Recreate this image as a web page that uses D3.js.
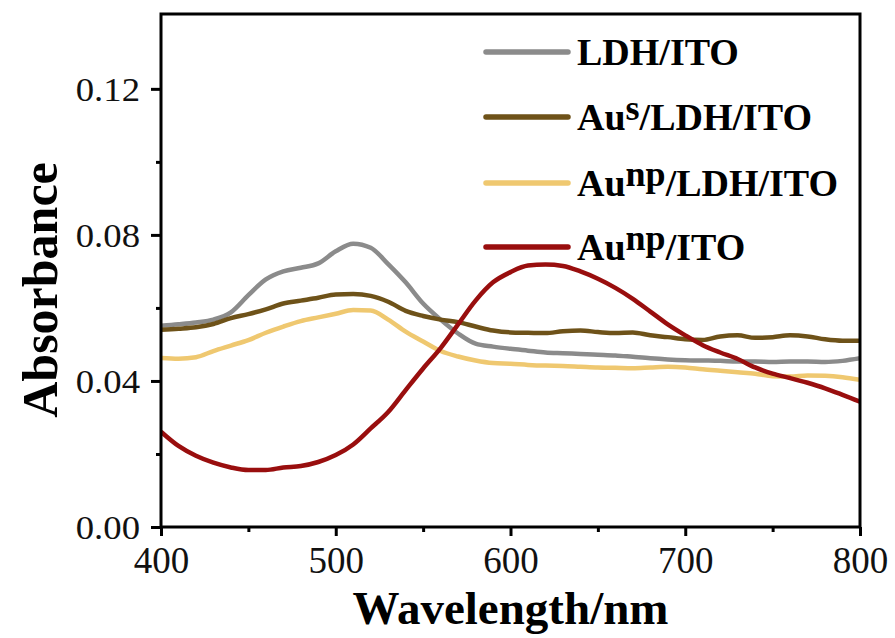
<!DOCTYPE html>
<html><head><meta charset="utf-8">
<script src="https://cdn.jsdelivr.net/npm/d3@7/dist/d3.min.js"></script>
<style>body{margin:0;background:#fff}</style></head>
<body><svg id="c" width="895" height="638"></svg>
<script>
const wavelength = [400,410,420,430,440,450,460,470,480,490,500,510,520,530,540,550,560,570,580,590,600,610,620,630,640,650,660,670,680,690,700,710,720,730,740,750,760,770,780,790,800];
const ldhITO = [0.0551,0.0555,0.0560,0.0568,0.0588,0.0635,0.0678,0.0700,0.0710,0.0722,0.0755,0.0776,0.0765,0.0720,0.0670,0.0612,0.0568,0.0530,0.0502,0.0494,0.0488,0.0483,0.0478,0.0476,0.0474,0.0472,0.0470,0.0466,0.0462,0.0459,0.0457,0.0456,0.0455,0.0453,0.0453,0.0452,0.0453,0.0453,0.0452,0.0455,0.0462];
const auSLdhITO = [0.0540,0.0543,0.0547,0.0556,0.0572,0.0583,0.0596,0.0612,0.0620,0.0628,0.0637,0.0638,0.0633,0.0617,0.0592,0.0578,0.0568,0.0561,0.0549,0.0538,0.0533,0.0532,0.0531,0.0536,0.0538,0.0534,0.0531,0.0533,0.0525,0.0520,0.0514,0.0512,0.0522,0.0525,0.0518,0.0520,0.0525,0.0522,0.0514,0.0510,0.0510];
const auNpLdhITO = [0.0463,0.0461,0.0465,0.0482,0.0497,0.0512,0.0532,0.0549,0.0564,0.0574,0.0584,0.0594,0.0593,0.0568,0.0535,0.0508,0.0482,0.0467,0.0456,0.0449,0.0447,0.0444,0.0442,0.0441,0.0439,0.0437,0.0436,0.0435,0.0437,0.0439,0.0437,0.0432,0.0428,0.0424,0.0420,0.0413,0.0412,0.0415,0.0414,0.0410,0.0403];
const auNpITO = [0.0261,0.0222,0.0195,0.0176,0.0163,0.0156,0.0156,0.0163,0.0167,0.0178,0.0197,0.0226,0.0270,0.0315,0.0375,0.0434,0.0490,0.0555,0.0620,0.0670,0.0698,0.0716,0.0719,0.0715,0.0700,0.0680,0.0655,0.0625,0.0590,0.0555,0.0525,0.0498,0.0478,0.0460,0.0437,0.0420,0.0408,0.0395,0.0380,0.0362,0.0343];

const seriesNames = [["LDH/ITO"], ["Au","s","/LDH/ITO"], ["Au","np","/LDH/ITO"], ["Au","np","/ITO"]];
const seriesColors = ["#8b8b8b", "#6e5219", "#efc870", "#990e0e"];
const seriesValues = [ldhITO, auSLdhITO, auNpLdhITO, auNpITO];

const xTicks = [400,500,600,700,800];
const xMinorTicks = [450,550,650,750];
const yTicks = [0,0.04,0.08,0.12];
const yMinorTicks = [0.02,0.06,0.10];
const yTickLabels = ["0.00","0.04","0.08","0.12"];

const svg = d3.select("#c");
const L=161, R=860, T=14, B=527;
const FONT = "'Liberation Serif', 'Times New Roman', serif";
const x = d3.scaleLinear().domain([400,800]).range([L,R]);
const y = d3.scaleLinear().domain([0,0.1405]).range([B,T]);

svg.append("defs").append("clipPath").attr("id","clip")
  .append("rect").attr("x",L).attr("y",T).attr("width",R-L).attr("height",B-T);

const line = d3.line().x((d,i)=>x(wavelength[i])).y(d=>y(d)).curve(d3.curveMonotoneX);
const plot = svg.append("g").attr("clip-path","url(#clip)");
seriesValues.forEach((vals,k)=>{
  plot.append("path").datum(vals).attr("d",line)
    .attr("fill","none").attr("stroke",seriesColors[k]).attr("stroke-width",4.5)
    .attr("stroke-linejoin","round");
});

// axes
const gx = svg.append("g").attr("transform",`translate(0,${B})`)
  .call(d3.axisBottom(x).tickValues(xTicks).tickSize(9).tickSizeOuter(0).tickFormat(d3.format("d")));
gx.select(".domain").remove();
gx.selectAll("line").attr("stroke","#000").attr("stroke-width",3);
gx.selectAll("text").attr("y",46).attr("dy",null)
  .attr("font-family",FONT).attr("font-size",37).attr("fill","#111");
const gxm = svg.append("g").attr("transform",`translate(0,${B})`)
  .call(d3.axisBottom(x).tickValues(xMinorTicks).tickSize(5).tickSizeOuter(0).tickFormat(""));
gxm.select(".domain").remove();
gxm.selectAll("line").attr("stroke","#000").attr("stroke-width",3);

const sx = 1.08;
const gy = svg.append("g").attr("transform",`translate(${L},0)`)
  .call(d3.axisLeft(y).tickValues(yTicks).tickSize(10).tickSizeOuter(0).tickFormat((d,i)=>yTickLabels[i]));
gy.select(".domain").remove();
gy.selectAll("line").attr("stroke","#000").attr("stroke-width",3);
gy.selectAll("text").attr("x",-21/sx).attr("dy","0.33em").attr("transform",`scale(${sx},1)`)
  .attr("font-family",FONT).attr("font-size",34).attr("fill","#111");
const gym = svg.append("g").attr("transform",`translate(${L},0)`)
  .call(d3.axisLeft(y).tickValues(yMinorTicks).tickSize(5).tickSizeOuter(0).tickFormat(""));
gym.select(".domain").remove();
gym.selectAll("line").attr("stroke","#000").attr("stroke-width",3);

svg.append("rect").attr("x",L).attr("y",T).attr("width",R-L).attr("height",B-T)
  .attr("fill","none").attr("stroke","#000").attr("stroke-width",3);

// axis titles
svg.append("text").attr("x",(L+R)/2).attr("y",624).attr("text-anchor","middle")
  .attr("font-family",FONT).attr("font-weight","bold")
  .attr("font-size",47).attr("fill","#000").text("Wavelength/nm");
svg.append("text").attr("transform","translate(57,290) rotate(-90)").attr("text-anchor","middle")
  .attr("font-family",FONT).attr("font-weight","bold")
  .attr("font-size",50).attr("fill","#000").text("Absorbance");

// legend
const legendY = [52,117,183,247];
const lg = svg.append("g");
seriesNames.forEach((parts,k)=>{
  const yy = legendY[k];
  lg.append("line").attr("x1",486).attr("x2",568).attr("y1",yy).attr("y2",yy)
    .attr("stroke",seriesColors[k]).attr("stroke-width",5.5).attr("stroke-linecap","round");
  const t = lg.append("text").attr("x",577).attr("y",yy+13)
    .attr("font-family",FONT).attr("font-weight","bold")
    .attr("font-size",38).attr("fill","#000");
  if (parts.length===1) { t.text(parts[0]); }
  else {
    t.append("tspan").text(parts[0]);
    t.append("tspan").attr("dy",-10).attr("font-size",36).text(parts[1]);
    t.append("tspan").attr("dy",10).text(parts[2]);
  }
});
</script>
</body></html>
